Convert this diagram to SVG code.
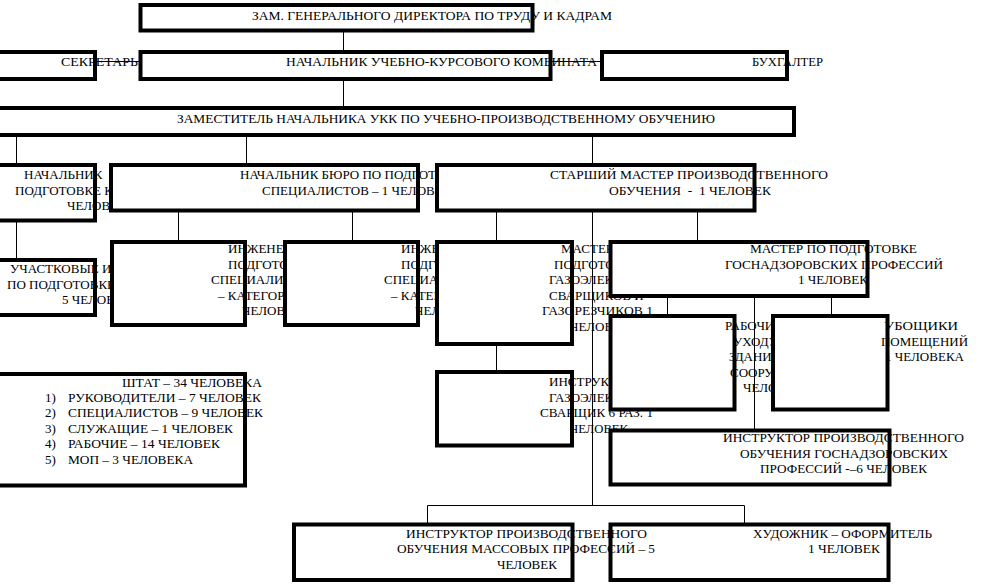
<svg xmlns="http://www.w3.org/2000/svg" width="988" height="585" viewBox="0 0 988 585">
<style>
.b{fill:#fff;stroke:#000;stroke-width:4}
.t{font-family:"Liberation Serif","Times New Roman",serif;font-size:13px;fill:#000}
.c{stroke:#000;stroke-width:1;fill:none}
.pre{white-space:pre}
</style>
<rect x="0" y="0" width="988" height="585" fill="#fff"/>
<g id="connectors" class="c">
<path d="M95,61.5H140.5M550.5,61.5H602"/>
<path d="M343.5,30.5V52M343.5,79V108"/>
<path d="M16.5,135V165M246.5,135V165M592.5,135V165"/>
<path d="M16.5,220.5V260"/>
<path d="M178.5,210.5V242M352.5,210.5V242"/>
<path d="M496.5,210.5V242M697.5,210.5V242"/>
<path d="M592.5,210.5V505.5M427.5,505.5H744.5M427.5,505.5V524.5M744.5,505.5V524.5"/>
<path d="M496.5,344V372"/>
<path d="M667.5,296V316M754.5,296V430.5M831.5,296V316"/>
</g>
<g id="zam_gen">
<rect class="b" x="140.5" y="5" width="392" height="25.5"/>
<text class="t" x="252" y="19.5" textLength="360" lengthAdjust="spacingAndGlyphs">ЗАМ. ГЕНЕРАЛЬНОГО ДИРЕКТОРА ПО ТРУДУ И КАДРАМ</text>
</g>
<g id="sekretar">
<rect class="b" x="-10" y="52" width="105" height="27"/>
<text class="t" x="61" y="65.5" textLength="77" lengthAdjust="spacingAndGlyphs">СЕКРЕТАРЬ</text>
</g>
<g id="nach_ukk">
<rect class="b" x="140.5" y="52" width="410" height="27"/>
<text class="t" x="286" y="65.5" textLength="311" lengthAdjust="spacingAndGlyphs">НАЧАЛЬНИК УЧЕБНО-КУРСОВОГО КОМБИНАТА</text>
</g>
<g id="buhgalter">
<rect class="b" x="602" y="52" width="185" height="27"/>
<text class="t" x="752" y="65.5" textLength="71" lengthAdjust="spacingAndGlyphs">БУХГАЛТЕР</text>
</g>
<g id="zamestitel">
<rect class="b" x="-10" y="108" width="804" height="27"/>
<text class="t" x="177" y="123" textLength="538" lengthAdjust="spacingAndGlyphs">ЗАМЕСТИТЕЛЬ НАЧАЛЬНИКА УКК ПО УЧЕБНО-ПРОИЗВОДСТВЕННОМУ ОБУЧЕНИЮ</text>
</g>
<g id="nach_left">
<rect class="b" x="-10" y="165" width="105" height="55.5"/>
<text class="t" x="24" y="179">НАЧАЛЬНИК</text>
<text class="t" x="15" y="194.5">ПОДГОТОВКЕ КАДРОВ</text>
<text class="t" x="67" y="210">ЧЕЛОВЕК</text>
</g>
<g id="nach_buro">
<rect class="b" x="111" y="165" width="307" height="45.5"/>
<text class="t" x="240" y="179">НАЧАЛЬНИК БЮРО ПО ПОДГОТОВКЕ</text>
<text class="t" x="262" y="194.5">СПЕЦИАЛИСТОВ – 1 ЧЕЛОВЕК</text>
</g>
<g id="starshiy_master">
<rect class="b" x="437" y="165" width="317.5" height="45.5"/>
<text class="t" x="550" y="179" textLength="278" lengthAdjust="spacingAndGlyphs">СТАРШИЙ МАСТЕР ПРОИЗВОДСТВЕННОГО</text>
<text class="t pre" x="609" y="194.5" textLength="162" lengthAdjust="spacingAndGlyphs">ОБУЧЕНИЯ  -  1 ЧЕЛОВЕК</text>
</g>
<g id="uchastkovye">
<rect class="b" x="-10" y="260" width="105" height="55"/>
<text class="t" x="10" y="273">УЧАСТКОВЫЕ ИНЖЕНЕРЫ</text>
<text class="t" x="7" y="288.5">ПО ПОДГОТОВКЕ</text>
<text class="t" x="62" y="304">5 ЧЕЛОВЕК</text>
</g>
<g id="inzhener1">
<rect class="b" x="112" y="242" width="133" height="83"/>
<text class="t" x="228" y="253">ИНЖЕНЕР ПО</text>
<text class="t" x="228" y="268.5">ПОДГОТОВКЕ</text>
<text class="t" x="211" y="284">СПЕЦИАЛИСТОВ</text>
<text class="t" x="218" y="299.5">– КАТЕГОРИИ</text>
<text class="t" x="242" y="315">ЧЕЛОВЕК</text>
</g>
<g id="inzhener2">
<rect class="b" x="285" y="242" width="133" height="83"/>
<text class="t" x="401" y="253">ИНЖЕНЕР ПО</text>
<text class="t" x="401" y="268.5">ПОДГОТОВКЕ</text>
<text class="t" x="384" y="284">СПЕЦИАЛИСТОВ</text>
<text class="t" x="391" y="299.5">– КАТЕГОРИИ</text>
<text class="t" x="415" y="315">ЧЕЛОВЕК</text>
</g>
<g id="master_gazo">
<rect class="b" x="437" y="242" width="135" height="102"/>
<text class="t" x="561" y="253">МАСТЕР ПО</text>
<text class="t" x="554" y="268.5">ПОДГОТОВКЕ</text>
<text class="t" x="549" y="284">ГАЗОЭЛЕКТРО</text>
<text class="t" x="549" y="299.5">СВАРЩИКОВ И</text>
<text class="t" x="542" y="315" textLength="111" lengthAdjust="spacingAndGlyphs">ГАЗОРЕЗЧИКОВ 1</text>
<text class="t" x="570" y="330.5">ЧЕЛОВЕК</text>
</g>
<g id="master_gosnadzor">
<rect class="b" x="610.5" y="242" width="257" height="54"/>
<text class="t" x="750" y="253" textLength="167" lengthAdjust="spacingAndGlyphs">МАСТЕР ПО ПОДГОТОВКЕ</text>
<text class="t" x="725" y="268.5" textLength="218" lengthAdjust="spacingAndGlyphs">ГОСНАДЗОРОВСКИХ ПРОФЕССИЙ</text>
<text class="t" x="798" y="284" textLength="70" lengthAdjust="spacingAndGlyphs">1 ЧЕЛОВЕК</text>
</g>
<g id="instr_gazo">
<rect class="b" x="437" y="372" width="135" height="73.5"/>
<text class="t" x="549" y="386">ИНСТРУКТОР</text>
<text class="t" x="549" y="401.5">ГАЗОЭЛЕКТРО</text>
<text class="t" x="540" y="417" textLength="113" lengthAdjust="spacingAndGlyphs">СВАРЩИК 6 РАЗ. 1</text>
<text class="t" x="570" y="432.5" textLength="58" lengthAdjust="spacingAndGlyphs">ЧЕЛОВЕК</text>
</g>
<g id="rabochie">
<rect class="b" x="610.5" y="316" width="124" height="93.5"/>
<text class="t" x="725" y="330">РАБОЧИЕ ПО</text>
<text class="t" x="733" y="345.5">УХОДУ ЗА</text>
<text class="t" x="729" y="361">ЗДАНИЯМИ И</text>
<text class="t" x="730" y="376.5">СООРУЖЕНИЯМИ</text>
<text class="t" x="743" y="392">ЧЕЛОВЕК</text>
</g>
<g id="uborshiki">
<rect class="b" x="773" y="316" width="114.5" height="93.5"/>
<text class="t" x="884" y="330" textLength="74" lengthAdjust="spacingAndGlyphs">УБОЩИКИ</text>
<text class="t" x="881" y="345.5" textLength="87" lengthAdjust="spacingAndGlyphs">ПОМЕЩЕНИЙ</text>
<text class="t" x="885" y="361" textLength="79" lengthAdjust="spacingAndGlyphs">1 ЧЕЛОВЕКА</text>
</g>
<g id="instr_gosnadzor">
<rect class="b" x="610.5" y="430.5" width="279" height="54"/>
<text class="t" x="723" y="442" textLength="241" lengthAdjust="spacingAndGlyphs">ИНСТРУКТОР ПРОИЗВОДСТВЕННОГО</text>
<text class="t" x="740" y="457.5" textLength="208" lengthAdjust="spacingAndGlyphs">ОБУЧЕНИЯ ГОСНАДЗОРОВСКИХ</text>
<text class="t" x="760" y="473" textLength="167" lengthAdjust="spacingAndGlyphs">ПРОФЕССИЙ -–6 ЧЕЛОВЕК</text>
</g>
<g id="shtat">
<rect class="b" x="-10" y="374" width="255" height="111.5"/>
<text class="t" x="122" y="386.5" textLength="140" lengthAdjust="spacingAndGlyphs">ШТАТ – 34 ЧЕЛОВЕКА</text>
<text class="t" x="45" y="401.5">1)</text>
<text class="t" x="68" y="401.5" textLength="193" lengthAdjust="spacingAndGlyphs">РУКОВОДИТЕЛИ – 7 ЧЕЛОВЕК</text>
<text class="t" x="45" y="417">2)</text>
<text class="t" x="68" y="417" textLength="195" lengthAdjust="spacingAndGlyphs">СПЕЦИАЛИСТОВ – 9 ЧЕЛОВЕК</text>
<text class="t" x="45" y="432.5">3)</text>
<text class="t" x="68" y="432.5" textLength="165" lengthAdjust="spacingAndGlyphs">СЛУЖАЩИЕ – 1 ЧЕЛОВЕК</text>
<text class="t" x="45" y="448">4)</text>
<text class="t" x="68" y="448" textLength="152" lengthAdjust="spacingAndGlyphs">РАБОЧИЕ – 14 ЧЕЛОВЕК</text>
<text class="t" x="45" y="463.5">5)</text>
<text class="t" x="68" y="463.5" textLength="125" lengthAdjust="spacingAndGlyphs">МОП – 3 ЧЕЛОВЕКА</text>
</g>
<g id="hudozhnik">
<rect class="b" x="610.5" y="524.5" width="278" height="55.5"/>
<text class="t" x="753" y="537.5" textLength="179" lengthAdjust="spacingAndGlyphs">ХУДОЖНИК – ОФОРМИТЕЛЬ</text>
<text class="t" x="808" y="553" textLength="72" lengthAdjust="spacingAndGlyphs">1 ЧЕЛОВЕК</text>
</g>
<g id="instr_massovyh">
<rect class="b" x="294" y="524.5" width="278.5" height="55.5"/>
<text class="t" x="406" y="537.5" textLength="241" lengthAdjust="spacingAndGlyphs">ИНСТРУКТОР ПРОИЗВОДСТВЕННОГО</text>
<text class="t" x="397" y="553" textLength="258" lengthAdjust="spacingAndGlyphs">ОБУЧЕНИЯ МАССОВЫХ ПРОФЕССИЙ – 5</text>
<text class="t" x="497" y="568.5" textLength="60" lengthAdjust="spacingAndGlyphs">ЧЕЛОВЕК</text>
</g>
</svg>
